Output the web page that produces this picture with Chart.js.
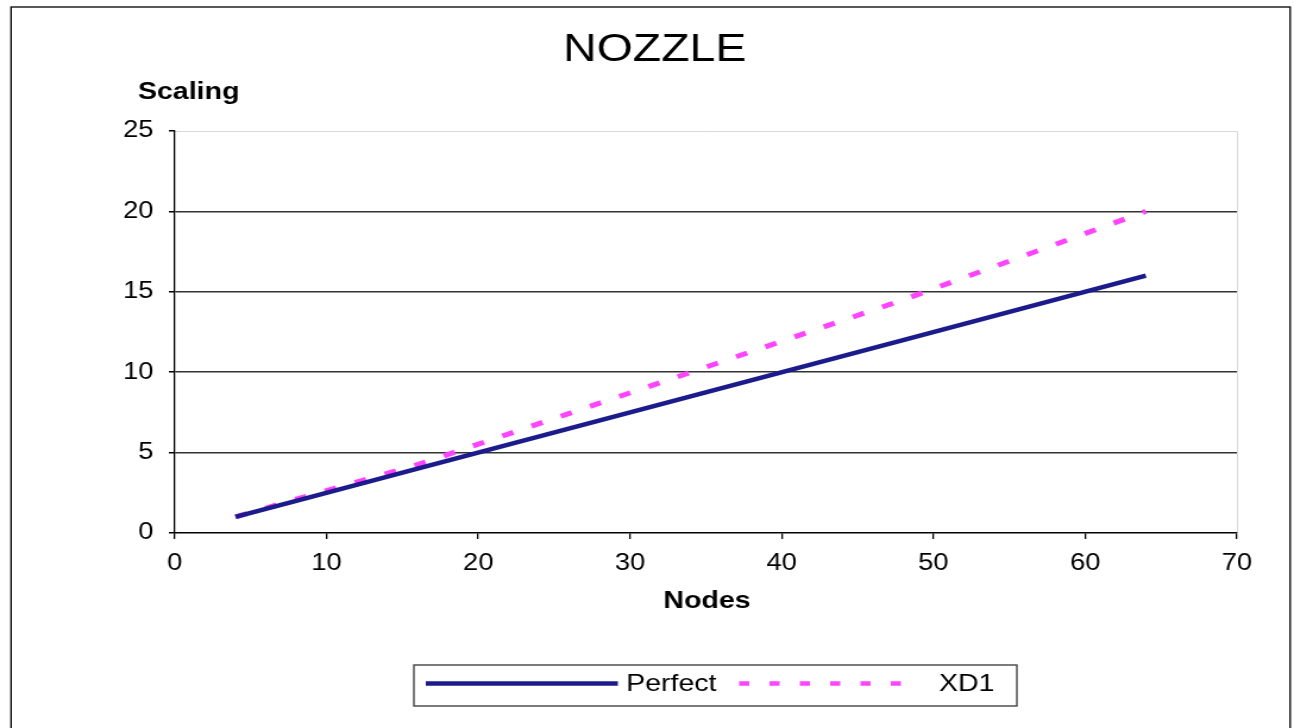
<!DOCTYPE html>
<html>
<head>
<meta charset="utf-8">
<script src="https://cdn.jsdelivr.net/npm/chart.js@4.4.1/dist/chart.umd.min.js"></script>
<style>
  html, body { margin: 0; padding: 0; background: #fff; overflow: hidden; }
  #wrap { width: 1088px; height: 728px; transform: scaleX(1.1893); transform-origin: 0 0; }
  canvas { display: block; }
</style>
</head>
<body>
<div id="wrap"><canvas id="c" width="1088" height="728"></canvas></div>
<script>
// Node counts and measured scaling
const nodes = [4, 8, 16, 32, 48, 64];
const perfect = [1, 2, 4, 8, 12, 16];
const xd1 = [1, 2.1, 4.25, 9.35, 14.5, 20];

const xTicks = [0, 10, 20, 30, 40, 50, 60, 70];
const yTicks = [0, 5, 10, 15, 20, 25];

const chartTitle = 'NOZZLE';
const yTitle = 'Scaling';
const xTitle = 'Nodes';

const FONT = '"Liberation Sans", Arial, sans-serif';
const NAVY = '#1b1b8c';
const MAGENTA = '#ff44ff';
const DASH = [10, 16.5];

const toPoints = (xs, ys) => xs.map((x, i) => ({ x: x, y: ys[i] }));

// Frame, titles and boxed legend drawn on the canvas
const decorations = {
  id: 'decorations',
  beforeDraw(chart) {
    const ctx = chart.ctx;
    const a = chart.chartArea;
    ctx.save();
    ctx.fillStyle = '#fff';
    ctx.fillRect(0, 0, chart.width, chart.height);
    // light plot-area border (top and right)
    ctx.strokeStyle = '#d8d8d8';
    ctx.lineWidth = 1;
    ctx.beginPath();
    ctx.moveTo(a.left, a.top + 0.5);
    ctx.lineTo(a.right + 0.5, a.top + 0.5);
    ctx.lineTo(a.right + 0.5, a.bottom);
    ctx.stroke();
    ctx.restore();
  },
  afterDraw(chart) {
    const ctx = chart.ctx;
    ctx.save();
    // outer frame
    ctx.strokeStyle = '#000';
    ctx.lineWidth = 1.3;
    ctx.strokeRect(9.3, 7, 1075.5, 800);

    ctx.fillStyle = '#000';
    ctx.textBaseline = 'middle';
    ctx.textAlign = 'center';
    ctx.font = '39px ' + FONT;
    ctx.fillText(chartTitle, 550.5, 50);

    ctx.font = 'bold 24px ' + FONT;
    ctx.textAlign = 'left';
    ctx.fillText(yTitle, 116, 92);
    ctx.textAlign = 'center';
    ctx.fillText(xTitle, 594.5, 601);

    // legend
    const lx = 348, ly = 665, lw = 507, lh = 41, cy = ly + lh / 2 - 2;
    ctx.strokeStyle = '#444';
    ctx.lineWidth = 1.4;
    ctx.strokeRect(lx, ly, lw, lh);
    const ds = chart.data.datasets;
    ctx.lineWidth = 4.5;
    ctx.strokeStyle = ds[0].borderColor;
    ctx.setLineDash([]);
    ctx.beginPath();
    ctx.moveTo(358, cy);
    ctx.lineTo(519.5, cy);
    ctx.stroke();
    ctx.strokeStyle = ds[1].borderColor;
    ctx.setLineDash([8.5, 17]);
    ctx.beginPath();
    ctx.moveTo(621.5, cy);
    ctx.lineTo(773, cy);
    ctx.stroke();
    ctx.setLineDash([]);
    ctx.font = '24px ' + FONT;
    ctx.textAlign = 'left';
    ctx.fillStyle = '#000';
    ctx.fillText(ds[0].label, 526.5, cy + 1);
    ctx.fillText(ds[1].label, 789.5, cy + 1);
    ctx.restore();
  }
};

new Chart(document.getElementById('c'), {
  type: 'line',
  data: {
    datasets: [
      {
        label: 'Perfect',
        data: toPoints(nodes, perfect),
        borderColor: NAVY,
        borderWidth: 4.5,
        pointRadius: 0,
        tension: 0,
        fill: false
      },
      {
        label: 'XD1',
        data: toPoints(nodes, xd1),
        borderColor: MAGENTA,
        borderWidth: 5,
        borderDash: DASH,
        borderCapStyle: 'butt',
        pointRadius: 0,
        tension: 0,
        fill: false
      }
    ]
  },
  options: {
    responsive: false,
    animation: false,
    devicePixelRatio: 1,
    layout: { padding: { left: 0, top: 131, right: 48, bottom: 0 } },
    plugins: {
      legend: { display: false },
      title: { display: false },
      tooltip: { enabled: false }
    },
    scales: {
      x: {
        type: 'linear',
        min: xTicks[0],
        max: xTicks[xTicks.length - 1],
        afterBuildTicks: s => { s.ticks = xTicks.map(v => ({ value: v })); },
        afterFit: s => { s.height = 195; },
        border: { display: true, color: '#000', width: 1.5 },
        grid: {
          drawOnChartArea: false,
          drawTicks: true,
          tickLength: 6,
          tickColor: '#000',
          lineWidth: 1.3
        },
        ticks: {
          color: '#000',
          padding: 11,
          maxRotation: 0,
          font: { family: FONT, size: 23 }
        }
      },
      y: {
        type: 'linear',
        min: yTicks[0],
        max: yTicks[yTicks.length - 1],
        afterBuildTicks: s => { s.ticks = yTicks.map(v => ({ value: v })); },
        afterFit: s => { s.width = 147; },
        border: { display: true, color: '#000', width: 1.3 },
        grid: {
          drawTicks: true,
          tickLength: 5,
          tickColor: '#000',
          color: ctx => (ctx.tick && ctx.tick.value > 0 && ctx.tick.value < 25) ? '#333' : 'rgba(0,0,0,0)',
          lineWidth: 1.5
        },
        ticks: {
          color: '#000',
          padding: 13,
          font: { family: FONT, size: 23 }
        }
      }
    }
  },
  plugins: [decorations]
});
</script>
</body>
</html>
